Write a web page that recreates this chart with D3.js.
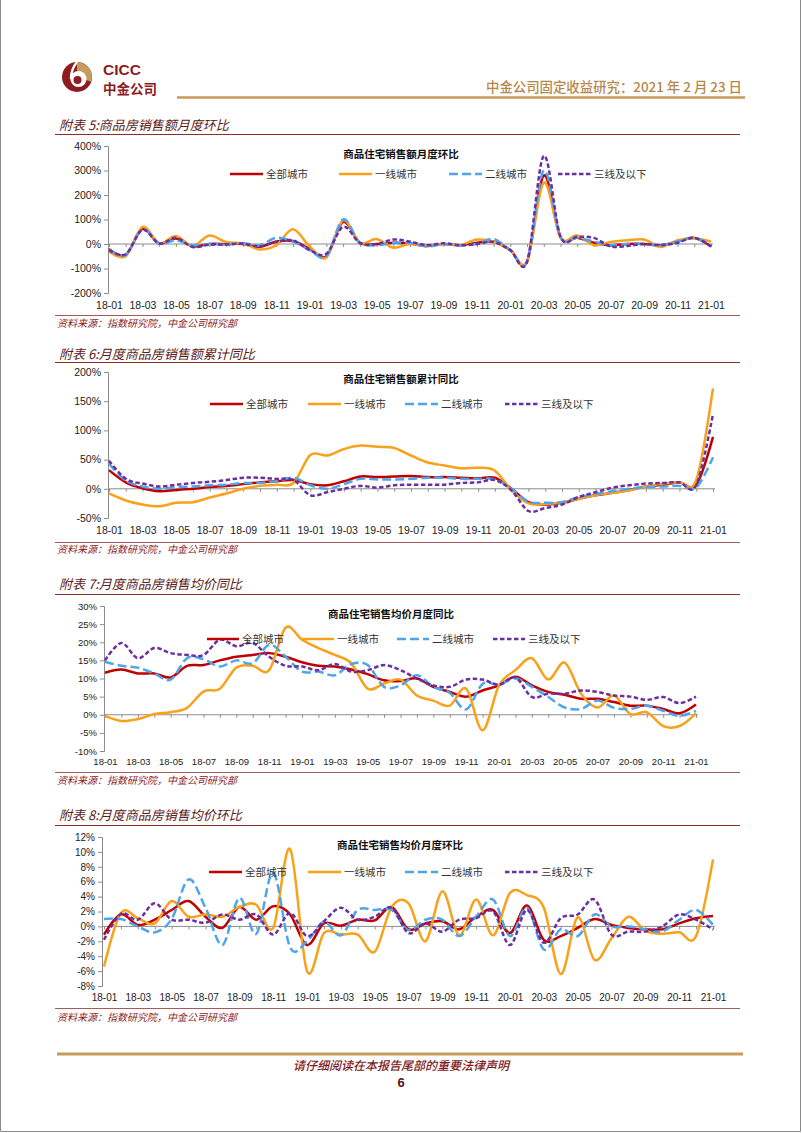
<!DOCTYPE html>
<html><head><meta charset="utf-8">
<script src="https://cdn.jsdelivr.net/npm/d3@7"></script>
<style>
html,body{margin:0;padding:0;background:#fff;}
svg{display:block;}
</style></head><body>
<svg id="page" width="802" height="1133"></svg>
<script>
// ---------------- DATA ----------------
const months = ["18-01","18-02","18-03","18-04","18-05","18-06","18-07","18-08","18-09","18-10","18-11","18-12",
  "19-01","19-02","19-03","19-04","19-05","19-06","19-07","19-08","19-09","19-10","19-11","19-12",
  "20-01","20-02","20-03","20-04","20-05","20-06","20-07","20-08","20-09","20-10","20-11","20-12","21-01"];
const seriesNames = ["全部城市","一线城市","二线城市","三线及以下"];

// 附表5 商品住宅销售额月度环比 (%)
const c1All = [-20,-45,62,2,22,-10,0,0,0,-12,10,12,-20,-50,90,5,0,5,2,-8,0,-5,5,10,-25,-72,280,28,25,5,-5,0,0,-5,10,25,-10];
const c1T1  = [-30,-50,70,3,33,-8,35,8,3,-22,-5,60,-10,-55,97,5,20,-15,0,-8,0,-5,18,10,-25,-72,250,25,35,-5,8,15,18,-12,15,22,10];
const c1T2  = [-22,-45,60,3,15,-5,0,-3,3,-5,25,10,-25,-50,100,5,-5,5,5,-10,0,-5,0,20,-25,-72,300,30,25,10,-5,0,0,-5,10,25,-5];
const c1T3  = [-25,-42,58,2,25,-12,-3,-2,2,-10,8,15,-25,-40,70,5,0,18,10,-5,3,-5,0,8,-25,-72,360,30,30,25,-10,-8,0,-5,5,25,-10];

// 附表6 商品住宅销售额累计同比 (%)
const c2All = [32,11,1,-4,-2,0,3,5,8,11,13,15,8,6,13,21,20,21,22,20,20,19,18,19,0,-23,-27,-24,-17,-11,-7,-2,4,7,11,7,89];
const c2T1  = [-8,-20,-27,-30,-24,-23,-15,-8,0,5,7,10,58,57,68,74,72,70,57,45,40,35,36,31,-3,-25,-26,-23,-17,-11,-7,-3,4,9,11,15,172];
const c2T2  = [43,14,4,0,3,4,6,7,10,10,13,19,6,0,8,17,16,16,17,19,19,17,17,16,0,-22,-24,-23,-14,-9,-4,0,3,4,5,2,54];
const c2T3  = [48,17,9,4,7,10,12,15,19,19,17,15,-11,-6,0,5,2,6,7,7,7,10,11,15,-3,-38,-33,-27,-14,-6,2,6,9,10,11,6,128];

// 附表7 商品住宅销售均价月度同比 (%)
const c3All = [11.6,12.5,11.4,11.4,10.3,13.5,13.7,15,16,16.5,17,16,14.5,13.5,13.3,12.5,11.2,9.5,9.3,10,7.7,6.3,5,6.7,8.1,10.5,8.1,6.3,5.5,4.4,4.4,3.5,2.5,2.5,1.6,0.4,2.8];
const c3T1  = [-0.3,-1.7,-1.2,0.2,0.7,1.9,6.4,7.2,13,13.5,12.3,24,20.7,18.4,16.5,14.2,7.2,8.6,9.7,5.3,3.9,2.5,7.2,-4.3,8.1,12.3,15.6,9.7,14.4,5.8,2,5.3,0.2,0.7,-3.1,-3.1,0.4];
const c3T2  = [14.6,13.5,13,11.4,9.7,15.6,15.3,13.3,15,14.2,19.3,16,11.9,11.9,10.9,14,13.7,7.7,8.1,10.9,7.7,6,1.5,8.5,8.3,10,7.7,4.9,2,1.6,3.9,1.9,1.6,2.5,1.1,-0.3,1.1];
const c3T3  = [15,19.8,15.6,18.4,17,16.5,16.5,20.7,18.9,19.8,16,13.5,13.3,12.3,14,11.9,12.3,13.7,12.3,10,8.1,7.7,9.7,9.7,8.3,10.3,4.9,5.8,5.8,6.7,6.3,5.3,5,4.1,4.9,3.2,5];

// 附表8 商品住宅销售均价月度环比 (%)
const c4All = [-1.1,1.6,0.2,0.9,2.2,3.4,1.3,-0.2,2.6,0.9,2.7,1.6,-2.5,0.4,0.1,0.9,0.8,2.6,-0.4,0.4,0.7,-0.4,1.3,2.2,-0.9,2.8,-1.8,-1.3,-0.2,1.0,0.2,-0.2,-0.4,-0.4,0.4,1.1,1.4];
const c4T1  = [-5.4,1.8,1.1,0.4,3.4,1.3,1.6,1.3,2.6,2.9,-0.2,10.4,-6.0,-0.9,-1.1,-1.1,-3.4,2.6,3.1,-2.0,4.7,-1.2,3.6,-1.2,4.5,4.2,2.5,-6.4,1.2,-4.5,-1.6,1.3,-0.6,-1.0,-0.8,-1.3,9.0];
const c4T2  = [1.0,1.0,0.0,-0.8,1.0,6.3,2.5,-2.5,3.8,-1.0,7.2,-2.8,-2.0,0.6,-1.2,2.2,2.2,2.2,-0.5,0.9,0.9,-1.3,1.3,3.6,-1.3,2.5,-3.1,-0.4,-1.3,1.6,0.0,0.0,-0.4,-0.7,0.9,2.2,0.2];
const c4T3  = [-1.8,1.7,0.9,3.1,0.9,0.9,0.5,1.6,0.9,1.6,-1.1,1.8,-1.3,0.7,2.5,0.9,1.3,2.5,-0.9,0.4,-0.7,0.9,1.1,2.0,-2.5,2.2,-2.2,1.1,1.6,3.6,-1.1,-0.7,-0.7,0.0,1.6,0.9,-0.4];

const figTitles = ["附表 5:商品房销售额月度环比","附表 6:月度商品房销售额累计同比","附表 7:月度商品房销售均价同比","附表 8:月度商品房销售均价环比"];
const chartTitles = ["商品住宅销售额月度环比","商品住宅销售额累计同比","商品住宅销售均价月度同比","商品住宅销售均价月度环比"];
const sourceText = "资料来源：指数研究院，中金公司研究部";

// ---------------- STYLE / LAYOUT ----------------
const colors = ["#c00000","#f8a11b","#4ea5ea","#6b2fa0"];
const dashes = [null,null,"9,4","4.5,2.5"];
const CJK = "'Noto Sans CJK SC','Noto Sans',sans-serif";
const LAT = "'Liberation Sans',Arial,sans-serif";

const layouts = [
 {data:[c1All,c1T1,c1T2,c1T3], domain:[-200,400], step:100, top:146, bottom:293, axisX:108, x0:109, x1:711, labelY:305,
  figY:130, figLineY:134.5, srcLineY:315.5, srcY:327, subY:154, subX:401, legY:174, legX:[230,339,449,558], legW:33, font:10.5},
 {data:[c2All,c2T1,c2T2,c2T3], domain:[-50,200], step:50, top:372, bottom:518, axisX:108, x0:109, x1:713, labelY:530,
  figY:359, figLineY:362.5, srcLineY:542.5, srcY:553, subY:379, subX:401, legY:404, legX:[210,308,405,505], legW:33, font:10.5},
 {data:[c3All,c3T1,c3T2,c3T3], domain:[-10,30], step:5, top:606, bottom:751, axisX:104, x0:105, x1:696, labelY:762,
  figY:589, figLineY:594.5, srcLineY:772.5, srcY:784, subY:614, subX:391, legY:639, legX:[207,302,397,493], legW:32, font:9.5},
 {data:[c4All,c4T1,c4T2,c4T3], domain:[-8,12], step:2, top:837, bottom:986, axisX:102, x0:104, x1:713, labelY:997,
  figY:820, figLineY:825.5, srcLineY:1008.5, srcY:1021, subY:845, subX:400, legY:872, legX:[209,308,405,505], legW:33, font:10}
];

const svg = d3.select("#page");

// page frame
svg.append("path").attr("d","M0.5,0 V1131.5 H800.5 V0").attr("fill","none").attr("stroke","#8a8a8a").attr("stroke-width",1);

// ---------------- HEADER ----------------
const logo = svg.append("g").attr("transform","translate(77,77)");
logo.append("circle").attr("r",15).attr("fill","#8e1b1f");
logo.append("path")
  .attr("d", d3.arc()({innerRadius:0, outerRadius:15, startAngle:0, endAngle:0.6*Math.PI}))
  .attr("fill","#c59b5f");
logo.append("circle").attr("cx",1.5).attr("cy",2).attr("r",8).attr("fill","#fff");
logo.append("circle").attr("cx",0.5).attr("cy",3).attr("r",4).attr("fill","#8e1b1f");
logo.append("path").attr("d","M0,-15 Q-6,-8 -6,2").attr("fill","none").attr("stroke","#fff").attr("stroke-width",2.5);
svg.append("text").attr("x",103).attr("y",74.5).text("CICC")
  .attr("font-family",LAT).attr("font-weight","bold").attr("font-size",15.5).attr("fill","#8e1b1f");
svg.append("text").attr("x",103).attr("y",94).text("中金公司")
  .attr("font-family",CJK).attr("font-weight","bold").attr("font-size",13.5).attr("fill","#8e1b1f");
svg.append("text").attr("x",742).attr("y",92).attr("text-anchor","end").text("中金公司固定收益研究：2021 年 2 月 23 日")
  .attr("font-family",CJK).attr("font-size",13.4).attr("font-weight",500).attr("fill","#b5884a");
svg.append("line").attr("x1",177).attr("x2",745).attr("y1",97.5).attr("y2",97.5).attr("stroke","#c8995a").attr("stroke-width",2.5);

// ---------------- FOOTER ----------------
svg.append("line").attr("x1",57).attr("x2",743).attr("y1",1054).attr("y2",1054).attr("stroke","#c8995a").attr("stroke-width",3);
svg.append("text").attr("x",401).attr("y",1070).attr("text-anchor","middle").text("请仔细阅读在本报告尾部的重要法律声明")
  .attr("font-family",CJK).attr("font-style","italic").attr("font-size",12).attr("font-weight",500).attr("fill","#7b1b1b");
svg.append("text").attr("x",401).attr("y",1087).attr("text-anchor","middle").text("6")
  .attr("font-family",LAT).attr("font-weight","bold").attr("font-size",13).attr("fill","#5a1010");

// ---------------- CHARTS ----------------
layouts.forEach((L, ci) => {
  const g = svg.append("g");
  g.append("text").attr("x",59).attr("y",L.figY).text(figTitles[ci])
    .attr("font-family",CJK).attr("font-style","italic").attr("font-size",13).attr("fill","#5a2020");
  g.append("line").attr("x1",55).attr("x2",740).attr("y1",L.figLineY).attr("y2",L.figLineY)
    .attr("stroke","#8b2d2d").attr("stroke-width",1.2);
  g.append("line").attr("x1",55).attr("x2",740).attr("y1",L.srcLineY).attr("y2",L.srcLineY)
    .attr("stroke","#a65b5b").attr("stroke-width",1);
  g.append("text").attr("x",57).attr("y",L.srcY).text(sourceText)
    .attr("font-family",CJK).attr("font-style","italic").attr("font-size",10).attr("fill","#8b1a1a");

  const x = d3.scalePoint().domain(months).range([L.x0, L.x1]);
  const y = d3.scaleLinear().domain(L.domain).range([L.bottom, L.top]);
  const yTicks = d3.range(L.domain[0], L.domain[1] + L.step/2, L.step);

  const ya = g.append("g").attr("transform",`translate(${L.axisX},0)`)
    .call(d3.axisLeft(y).tickValues(yTicks).tickSize(4).tickPadding(3).tickFormat(d => d + "%"));
  ya.select(".domain").attr("stroke","#8c8c8c");
  ya.selectAll(".tick line").attr("stroke","#8c8c8c");
  ya.selectAll("text").attr("font-family",LAT).attr("font-size",L.font).attr("fill","#222");

  const xa = g.append("g").attr("transform",`translate(0,${y(0)})`)
    .call(d3.axisBottom(x).tickSize(3).tickFormat(""));
  xa.select(".domain").attr("stroke","#8c8c8c").attr("d",`M${L.axisX},0H${L.x1+2}`);
  xa.selectAll(".tick line").attr("stroke","#8c8c8c");

  const lab = g.append("g").attr("transform",`translate(0,${L.labelY})`)
    .call(d3.axisBottom(x).tickValues(months.filter((m,i)=>i%2===0)).tickSize(0).tickPadding(0));
  lab.select(".domain").remove();
  lab.selectAll("text").attr("font-family",LAT).attr("font-size",L.font).attr("fill","#222")
    .attr("dy","0.35em");

  const line = d3.line().x((d,i)=>x(months[i])).y(d=>y(d)).curve(d3.curveCardinal.tension(0));
  L.data.forEach((arr, si) => {
    g.append("path").attr("d", line(arr)).attr("fill","none")
      .attr("stroke", colors[si]).attr("stroke-width", 2.5)
      .attr("stroke-dasharray", dashes[si]).attr("stroke-linejoin","round");
  });

  g.append("text").attr("x",L.subX).attr("y",L.subY).attr("text-anchor","middle").attr("dy","0.35em")
    .text(chartTitles[ci]).attr("font-family",CJK).attr("font-weight","bold").attr("font-size",10.5).attr("fill","#111");

  seriesNames.forEach((nm, si) => {
    const lx = L.legX[si];
    g.append("line").attr("x1",lx).attr("x2",lx+L.legW).attr("y1",L.legY).attr("y2",L.legY)
      .attr("stroke",colors[si]).attr("stroke-width",2.5).attr("stroke-dasharray",dashes[si]);
    g.append("text").attr("x",lx+L.legW+3).attr("y",L.legY).attr("dy","0.35em").text(nm)
      .attr("font-family",CJK).attr("font-size",10.5).attr("fill","#333");
  });
});
</script>
</body></html>
